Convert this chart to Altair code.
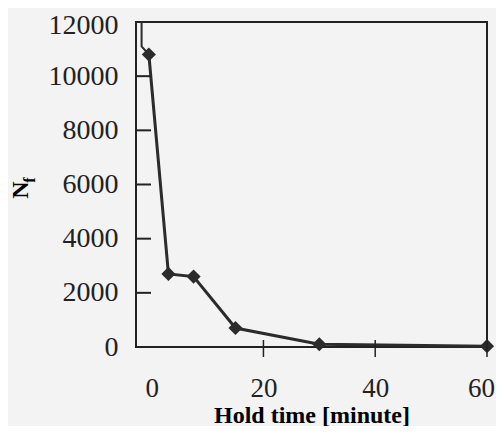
import altair as alt
import pandas as pd

# Data
hold_time = [-0.5, 3, 7.5, 15, 30, 60]
cycles = [10800, 2700, 2600, 700, 100, 30]
lead_x = [-1.8, -1.8, -0.5]
lead_y = [12000, 11100, 10800]

y_tick_labels = [0, 2000, 4000, 6000, 8000, 10000, 12000]
y_inner_ticks = [2000, 4000, 6000, 8000, 10000]
x_tick_labels = [0, 20, 40, 60]
x_inner_ticks = [20, 40, 60]

main = pd.DataFrame({"t": hold_time, "n": cycles})
lead = pd.DataFrame({"t": lead_x, "n": lead_y})
ytk = pd.DataFrame({"n": y_inner_ticks})
xtk = pd.DataFrame({"t": x_inner_ticks})

xscale = alt.Scale(domain=[-2.8, 60], nice=False, zero=False)
yscale = alt.Scale(domain=[0, 12000], nice=False, zero=False)

ink = "#2b2b2b"
serif = "Liberation Serif"

xaxis = alt.Axis(values=x_tick_labels, format="d", ticks=False, tickSize=0, domain=False, grid=False,
                 labelFont=serif, labelFontSize=27, labelColor="#222", labelPadding=28,
                 labelFlush=False, labelOverlap=False,
                 labelOffset={"expr": "datum.value == 60 ? -6 : 0"},
                 title="Hold time [minute]", titleFont=serif, titleFontWeight="bold",
                 titleFontSize=24, titleColor="#000", titleBaseline="alphabetic", titleY=75)
yaxis = alt.Axis(values=y_tick_labels, format="d", ticks=False, tickSize=0, domain=False, grid=False,
                 labelFont=serif, labelFontSize=28, labelColor="#222", labelPadding=18,
                 labelFlush=False, labelOverlap=False,
                 labelOffset={"expr": "datum.value == 12000 ? 3 : 0"}, title=None)

line = alt.Chart(main).mark_line(color=ink, strokeWidth=3).encode(
    x=alt.X("t:Q", scale=xscale, axis=xaxis),
    y=alt.Y("n:Q", scale=yscale, axis=yaxis),
)
pts = alt.Chart(main).mark_point(shape="diamond", filled=True, size=200, color=ink, opacity=1).encode(
    x=alt.X("t:Q", scale=xscale),
    y=alt.Y("n:Q", scale=yscale),
)
lead_line = alt.Chart(lead).mark_line(color=ink, strokeWidth=2).encode(
    x=alt.X("t:Q", scale=xscale),
    y=alt.Y("n:Q", scale=yscale),
)
yticks = alt.Chart(ytk).mark_rule(color="#222", strokeWidth=2).encode(
    y=alt.Y("n:Q", scale=yscale),
    x=alt.value(0),
    x2=alt.value(15),
)
xticks = alt.Chart(xtk).mark_rule(color="#222", strokeWidth=1.5).encode(
    x=alt.X("t:Q", scale=xscale),
    y=alt.value(318),
    y2=alt.value(335),
)
title_n = alt.Chart(pd.DataFrame({"s": ["N"]})).mark_text(
    angle=270, font=serif, fontWeight="bold", fontSize=24, color="#000",
    align="center", baseline="middle").encode(
    text="s:N", x=alt.value(-115), y=alt.value(168))
title_f = alt.Chart(pd.DataFrame({"s": ["f"]})).mark_text(
    angle=270, font=serif, fontWeight="bold", fontSize=16, color="#000",
    align="center", baseline="middle").encode(
    text="s:N", x=alt.value(-106), y=alt.value(158))

chart = alt.layer(lead_line, line, pts, yticks, xticks, title_n, title_f).properties(
    width=351, height=325,
    autosize=alt.AutoSizeParams(type="none"),
    padding={"left": 128, "top": 14, "right": 9, "bottom": 79},
    background="#f3f3f3",
).configure_view(stroke="#222", strokeWidth=2)

chart.save("out.html", embed_options={"renderer": "svg", "actions": False})
